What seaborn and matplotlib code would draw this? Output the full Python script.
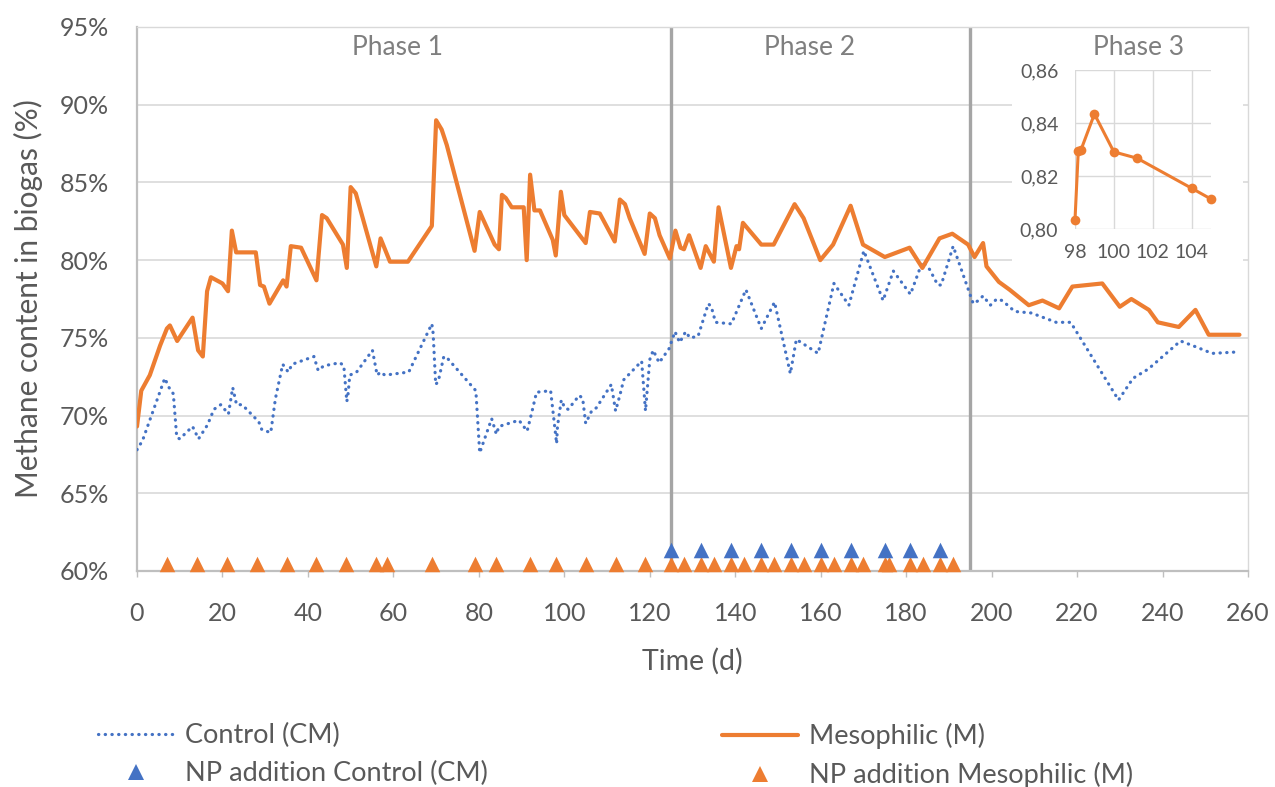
import matplotlib
matplotlib.use("Agg")
import matplotlib.pyplot as plt
import seaborn as sns
from matplotlib.lines import Line2D
from matplotlib.patches import Rectangle
from matplotlib.ticker import FuncFormatter, MultipleLocator

# --- data ---
meso_days = [0, 1, 3, 5.4, 7, 7.7, 9.4, 13, 14.3, 15.4, 16.4, 17.3, 20, 21.3, 22.2, 23.2,
             27.8, 28.8, 29.7, 31, 34.2, 35, 36, 38.4, 42, 43.3, 44.4, 48.2, 49.1, 50,
             51.2, 56, 57, 59.2, 63.4, 69, 70, 71.3, 72.5, 79, 80.2, 83.7, 84.7, 85.4,
             86.3, 87.7, 90.5, 91.2, 92, 93, 94.3, 97.3, 98, 99.2, 100, 105, 106, 108.3,
             111.8, 113, 114.2, 115.3, 118.8, 120, 121.2, 122.3, 124.7, 126, 127.2, 128,
             129.2, 131.9, 133.1, 135, 136.1, 139, 140.3, 140.9, 141.8, 146.1, 149,
             153.9, 156, 159.9, 162.9, 167, 169.9, 175, 180.8, 183.8, 187.8, 190.8,
             194.5, 196, 198, 198.8, 201.7, 204.2, 208.7, 211.9, 215.8, 218.9, 225.9,
             230, 232.7, 236.8, 238.9, 243.8, 247.7, 250.8, 258]
meso_ch4 = [69.3, 71.6, 72.6, 74.5, 75.6, 75.8, 74.8, 76.3, 74.2, 73.8, 78.0, 78.9, 78.5,
            78.0, 81.9, 80.5, 80.5, 78.4, 78.3, 77.2, 78.7, 78.3, 80.9, 80.8, 78.7, 82.9,
            82.7, 81.0, 79.5, 84.7, 84.3, 79.6, 81.4, 79.9, 79.9, 82.2, 89.0, 88.4, 87.4,
            80.6, 83.1, 81.0, 80.7, 84.2, 84.0, 83.4, 83.4, 80.0, 85.5, 83.2, 83.2, 81.3,
            80.3, 84.4, 82.9, 81.1, 83.1, 83.0, 81.2, 83.9, 83.6, 82.7, 80.4, 83.0, 82.7,
            81.6, 80.1, 81.9, 80.8, 80.7, 81.6, 79.5, 80.9, 79.9, 83.4, 79.5, 80.9, 80.7,
            82.4, 81.0, 81.0, 83.6, 82.7, 80.0, 81.0, 83.5, 81.0, 80.2, 80.8, 79.5, 81.4,
            81.7, 81.0, 80.2, 81.1, 79.6, 78.6, 78.1, 77.1, 77.4, 76.9, 78.3, 78.5, 77.0,
            77.5, 76.8, 76.0, 75.7, 76.8, 75.2, 75.2]

ctrl_days = [0, 1.3, 6.5, 7.5, 8.5, 9.3, 10, 13, 14.4, 16.5, 18, 19.6, 21.4, 22.4, 23.3,
             24.6, 28.5, 29.2, 31.3, 32.4, 34.1, 35.4, 36.3, 41.4, 42.4, 43.7, 47.5, 48.4,
             49.1, 49.4, 49.8, 51.4, 55.1, 56.2, 57, 58, 63.6, 69, 69.3, 69.9, 70.5, 71.8,
             72.6, 79.3, 80.2, 83, 84.1, 84.7, 89.4, 91.3, 92.3, 93.5, 96.8, 98.2, 98.4,
             99.3, 100.1, 100.9, 103.5, 104.3, 105, 106.4, 107.5, 111, 112, 113, 113.9,
             118.1, 119, 120, 120.8, 122.2, 124.5, 125.9, 127, 128.4, 129.4, 131.3, 133.7,
             134.4, 135.4, 139.1, 142.5, 146.1, 149.2, 152.9, 154.3, 159.4, 163.1, 166.6,
             170.1, 174.6, 177, 181, 183.8, 185.5, 187.4, 188.2, 191, 195.7, 196.9, 198,
             199.7, 201.2, 202.5, 205.4, 209.3, 215.1, 218.5, 229.7, 233.1, 236.7, 244.2,
             248, 251.6, 258]
ctrl_ch4 = [67.8, 68.4, 72.4, 71.8, 71.4, 68.6, 68.5, 69.3, 68.5, 69.4, 70.4, 70.7, 70.1,
            71.8, 70.7, 70.7, 69.6, 69.1, 68.9, 71.1, 73.3, 72.8, 73.3, 73.8, 72.9, 73.2,
            73.4, 73.2, 70.9, 71.4, 72.6, 72.8, 74.2, 72.6, 72.8, 72.6, 72.8, 75.9, 75.3,
            72.0, 72.2, 73.8, 73.7, 71.6, 67.6, 69.8, 68.8, 69.3, 69.7, 69.0, 70.1, 71.5,
            71.6, 68.2, 69.3, 71.0, 70.5, 70.4, 71.3, 71.1, 69.5, 70.3, 70.5, 72.0, 70.3,
            71.3, 72.3, 73.5, 70.3, 73.6, 74.2, 73.4, 74.3, 75.4, 74.7, 75.4, 75.0, 75.1,
            77.2, 77.0, 76.0, 75.9, 78.1, 75.6, 77.3, 72.7, 74.9, 74.0, 78.5, 77.1, 80.6,
            77.4, 79.3, 77.8, 79.9, 79.4, 78.4, 78.4, 80.9, 77.2, 77.4, 77.7, 77.1, 77.5,
            77.4, 76.7, 76.6, 76.0, 76.0, 71.0, 72.4, 73.0, 74.8, 74.4, 74.0, 74.1]

np_meso_days = [7, 14, 21, 28, 35, 42, 49, 56, 58.5, 69, 79, 84, 92, 98, 105, 112, 119,
                125, 128, 132, 135, 139, 142, 146, 149, 153, 156, 160, 163, 167, 170,
                175, 176, 181, 184, 188, 191]
np_ctrl_days = [125, 132, 139, 146, 153, 160, 167, 175, 181, 188]

inset_days = [98.0, 98.17, 98.31, 99.0, 100.0, 101.2, 104.0, 105.0]
inset_ch4 = [0.8035, 0.8296, 0.8299, 0.8434, 0.8291, 0.8267, 0.8154, 0.8113]

phase_bounds = [125, 195]
phase_labels = ["Phase 1", "Phase 2", "Phase 3"]
phase_label_x = [61, 157.5, 234.5]

BLUE = "#4472C4"
ORANGE = "#ED7D31"
TXT = "#595959"

sns.set_theme(style="white")
plt.rcParams["font.family"] = ["Lato", "DejaVu Sans"]

W, H = 1275, 787
fig = plt.figure(figsize=(W / 100, H / 100), dpi=100)
ax = fig.add_axes([137 / W, 1 - 571 / H, (1248 - 137) / W, (571 - 27) / H])

# main series
sns.lineplot(x=ctrl_days, y=ctrl_ch4, ax=ax, sort=False, estimator=None, color=BLUE,
             linewidth=2.3, linestyle=(0, (0.1, 2.0)), dash_capstyle="round", zorder=3)
sns.lineplot(x=meso_days, y=meso_ch4, ax=ax, sort=False, estimator=None, color=ORANGE,
             linewidth=3.0, zorder=4)

# NP addition markers
sns.scatterplot(x=np_meso_days, y=[60.45] * len(np_meso_days), ax=ax, marker="^",
                s=125, color=ORANGE, linewidth=0, clip_on=False, zorder=5)
sns.scatterplot(x=np_ctrl_days, y=[61.35] * len(np_ctrl_days), ax=ax, marker="^",
                s=125, color=BLUE, linewidth=0, clip_on=False, zorder=5)

# phase separators + labels
for xb in phase_bounds:
    ax.axvline(xb, color="#A5A5A5", linewidth=2.4, zorder=2)
for lab, xl in zip(phase_labels, phase_label_x):
    ax.text(xl, 93.7, lab, ha="center", va="center", fontsize=19, color="#7F7F7F")

ax.set_xlim(0, 260)
ax.set_ylim(60, 95)
ax.xaxis.set_major_locator(MultipleLocator(20))
ax.yaxis.set_major_locator(MultipleLocator(5))
ax.yaxis.set_major_formatter(FuncFormatter(lambda v, p: f"{v:.0f}%"))
ax.grid(axis="y", color="#D9D9D9", linewidth=1.2, zorder=0)
ax.set_axisbelow(True)
for side in ["left", "bottom"]:
    ax.spines[side].set_color("#BFBFBF")
    ax.spines[side].set_linewidth(1.6)
for side in ["top", "right"]:
    ax.spines[side].set_color("#D9D9D9")
    ax.spines[side].set_linewidth(1.0)
ax.tick_params(axis="y", length=0, pad=20, labelsize=18, labelcolor=TXT)
ax.tick_params(axis="x", length=4, width=1, color="#BFBFBF", direction="out", pad=18,
               labelsize=18, labelcolor=TXT, bottom=True)

ax.set_xlabel("Time (d)", fontsize=20.5, color=TXT, va="center")
ax.xaxis.set_label_coords(0.5, (571 - 661) / 544)
ax.set_ylabel("Methane content in biogas (%)", fontsize=21.5, color=TXT, va="center")
ax.yaxis.set_label_coords((28 - 137) / 1111, 0.5)

# white backing box for the inset
fig.add_artist(Rectangle((1012 / W, 1 - 270 / H), (1243 - 1012) / W, (270 - 58) / H,
                         transform=fig.transFigure, facecolor="white", edgecolor="none",
                         zorder=1))

# inset (phase 3 zoom)
ins = fig.add_axes([1075 / W, 1 - 229 / H, 136 / W, 159 / H])
ins.set_zorder(3)
sns.lineplot(x=inset_days, y=inset_ch4, ax=ins, sort=False, estimator=None, color=ORANGE,
             linewidth=2.2, marker="o", markersize=7, markeredgewidth=0, clip_on=False)
ins.set_xlim(98, 105)
ins.set_ylim(0.80, 0.86)
ins.set_xticks([98, 100, 102, 104])
ins.set_yticks([0.80, 0.82, 0.84, 0.86])
ins.yaxis.set_major_formatter(FuncFormatter(lambda v, p: f"{v:.2f}".replace(".", ",")))
ins.grid(True, color="#D9D9D9", linewidth=1.0)
ins.set_axisbelow(True)
for s in ins.spines.values():
    s.set_visible(False)
ins.tick_params(length=0, labelsize=14, labelcolor=TXT)
ins.tick_params(axis="y", pad=12)
ins.tick_params(axis="x", pad=11)
ins.set_xlabel("")
ins.set_ylabel("")

# legend in two separate columns
h_ctrl = Line2D([], [], color=BLUE, linewidth=2.3, linestyle=(0, (0.1, 2.0)),
                dash_capstyle="round")
h_np_ctrl = Line2D([], [], color=BLUE, linestyle="none", marker="^", markersize=11,
                   markeredgewidth=0)
h_meso = Line2D([], [], color=ORANGE, linewidth=3.0)
h_np_meso = Line2D([], [], color=ORANGE, linestyle="none", marker="^", markersize=11,
                   markeredgewidth=0)
leg_kw = dict(loc="upper left", frameon=False, fontsize=19.5, handlelength=2.8,
              handletextpad=0.4, labelspacing=0.48, borderpad=0, borderaxespad=0,
              labelcolor=TXT)
fig.legend([h_ctrl, h_np_ctrl], ["Control (CM)", "NP addition Control (CM)"],
           bbox_to_anchor=(98 / W, 1 - 723 / H), **leg_kw)
fig.legend([h_meso, h_np_meso], ["Mesophilic (M)", "NP addition Mesophilic (M)"],
           bbox_to_anchor=(722 / W, 1 - 723 / H), **leg_kw)

fig.savefig("out.png", dpi=100)
